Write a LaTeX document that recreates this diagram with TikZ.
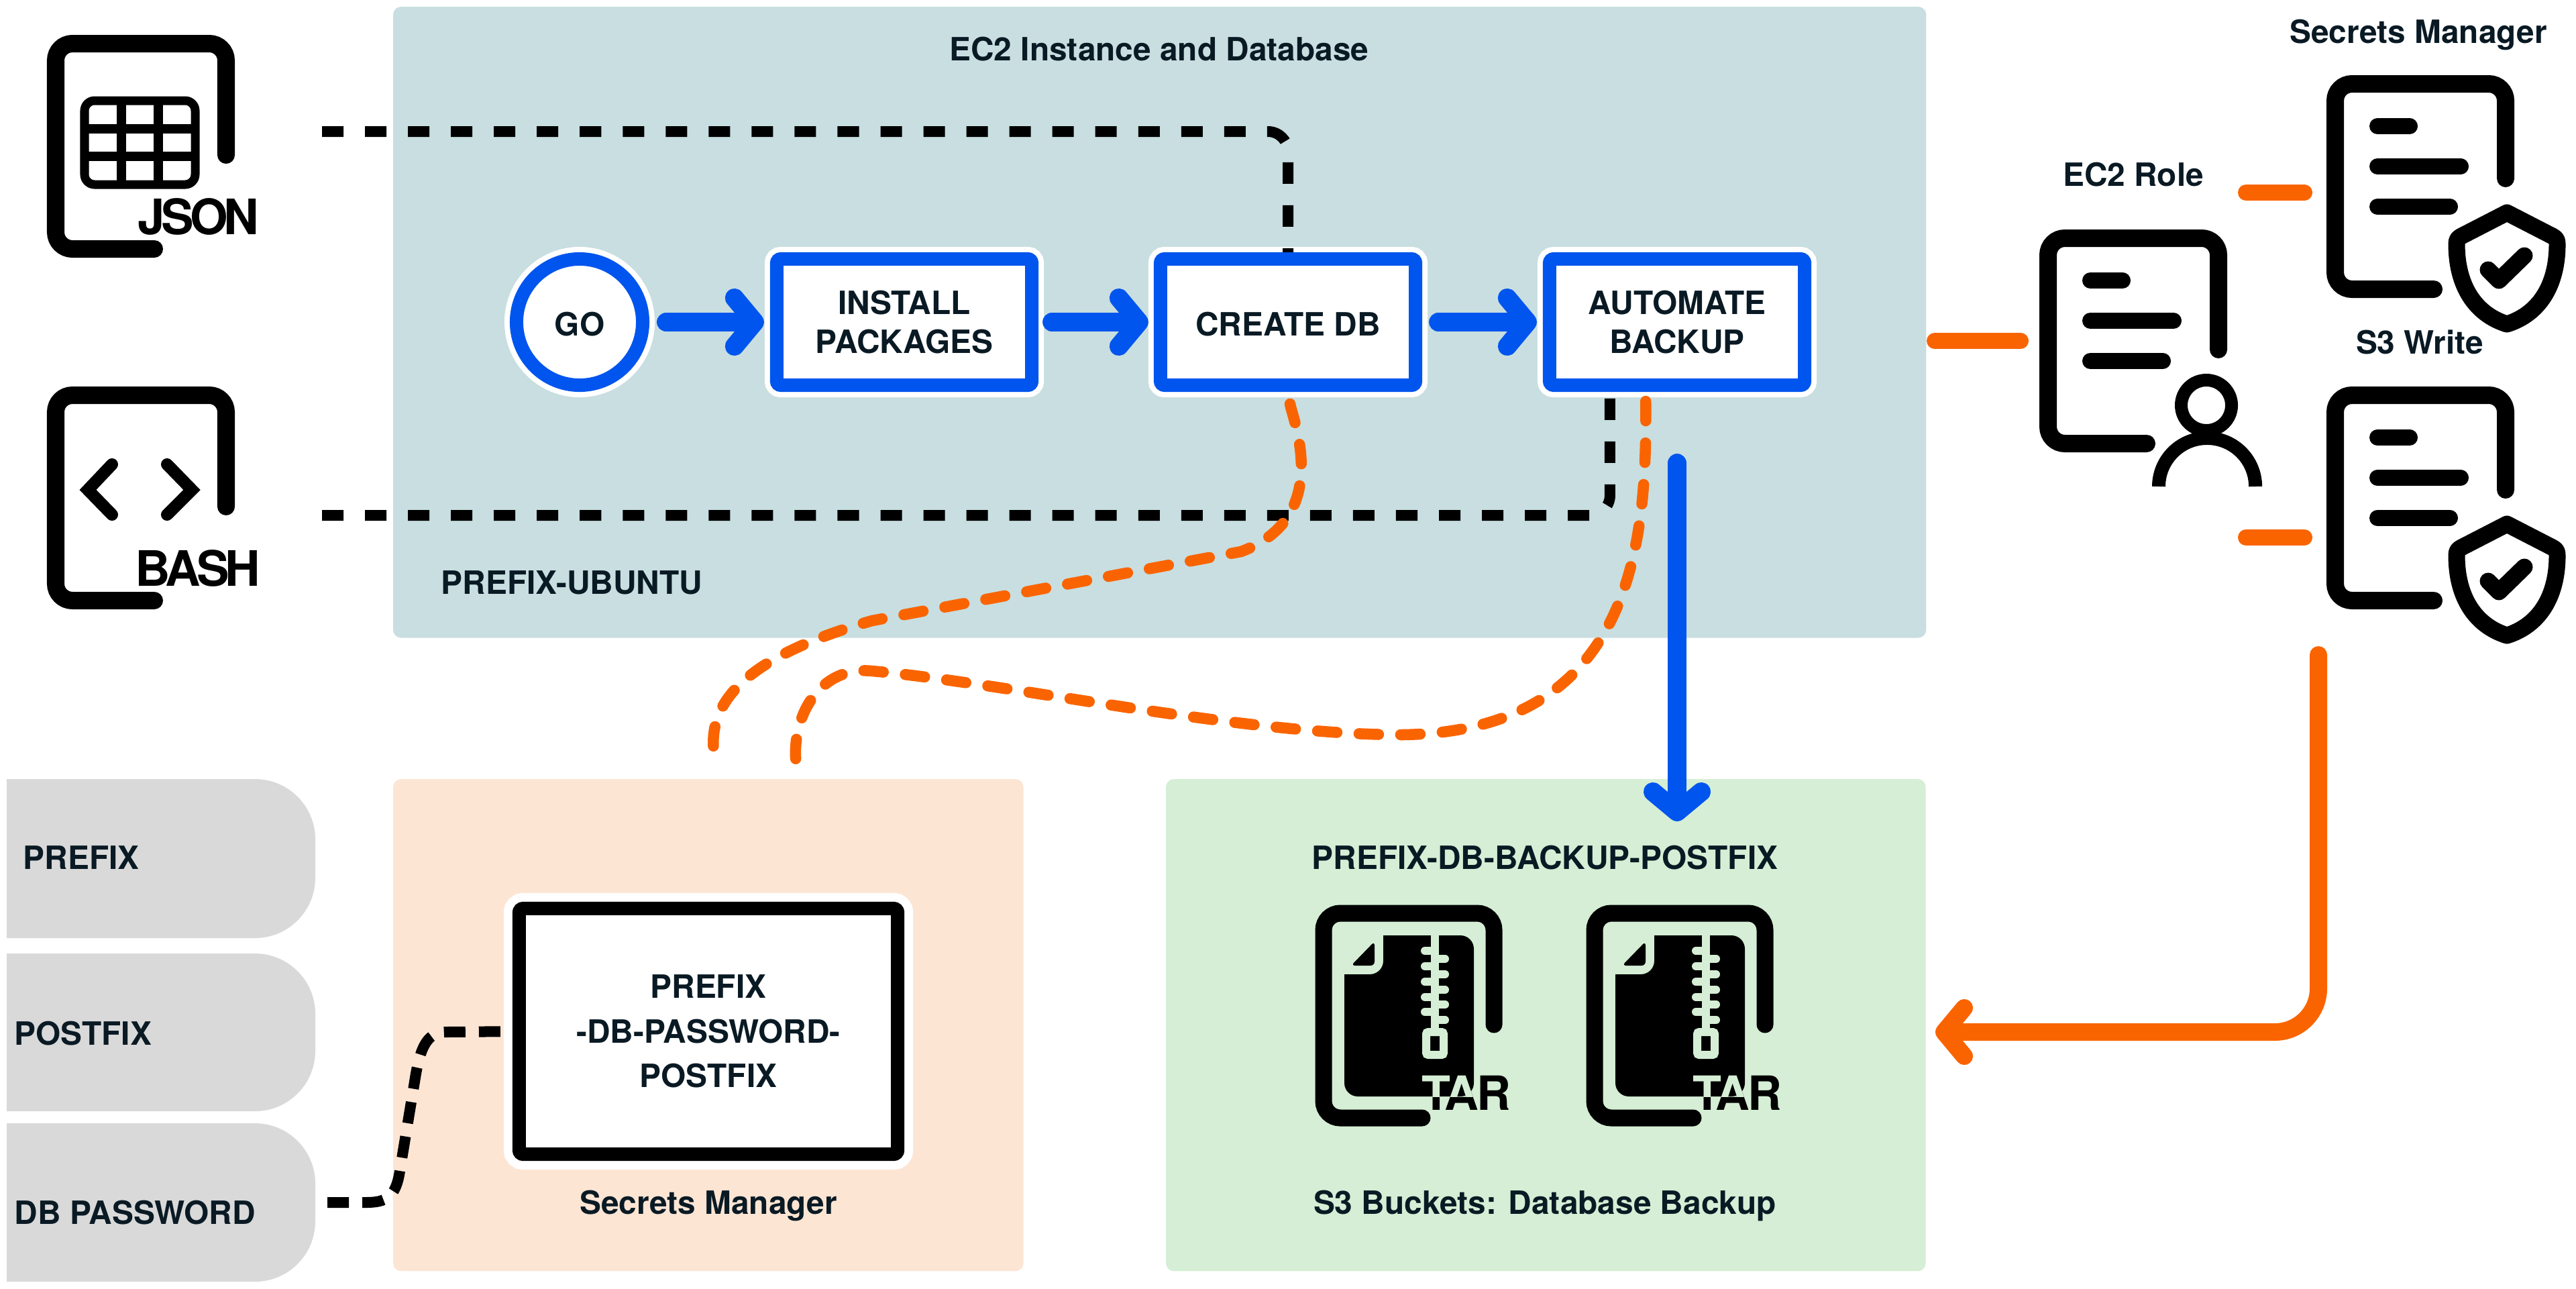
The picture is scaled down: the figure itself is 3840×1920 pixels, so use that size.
\documentclass[tikz,border=0pt]{standalone}
\usepackage{fontspec}
\setmainfont{TeX Gyre Heros}
\newfontfamily\tightfont[LetterSpace=-8]{TeX Gyre Heros}
\newfontfamily\tarfont[LetterSpace=-4]{TeX Gyre Heros}
\usetikzlibrary{arrows.meta}
\definecolor{inktext}{HTML}{0A1A24}
\definecolor{flowblue}{HTML}{0055EE}
\definecolor{roleorange}{HTML}{FA6400}
\definecolor{tealpanel}{HTML}{C8DEE0}
\definecolor{peachpanel}{HTML}{FDE5D4}
\definecolor{greenpanel}{HTML}{D5EED5}
\definecolor{vargrey}{HTML}{D9D9D9}
\tikzset{
  textlabel/.style={font=\fontsize{13.6}{16.5}\selectfont\bfseries,text=inktext,inner sep=0pt,anchor=base},
  panel/.style={rounded corners=.12cm,minimum width=#1,outer sep=0pt,inner sep=0pt,anchor=north west},
  stepbox/.style={draw=flowblue,fill=white,line width=.2cm,rounded corners=.06cm,align=center,
    minimum width=3.8cm,minimum height=1.88cm,outer sep=0pt,inner sep=0pt,
    font=\fontsize{13.6}{16.5}\selectfont\bfseries,text=inktext,
    execute at begin node={\rule{0pt}{.42cm}},
    preaction={draw=white,line width=.36cm}},
  gocircle/.style={stepbox,circle,minimum width=1.88cm,minimum height=1.88cm},
  secretbox/.style={draw=black,fill=white,line width=.2cm,rounded corners=.06cm,align=center,
    minimum width=5.64cm,minimum height=3.66cm,outer sep=0pt,inner sep=0pt,
    font=\fontsize{13.6}{19}\selectfont\bfseries,text=inktext,
    preaction={draw=white,line width=.46cm}},
  flowarrow/.style={draw=flowblue,line width=.28cm,line cap=round,
    -{Straight Barb[round,length=.3cm,width=.72cm]}},
  rolearrow/.style={draw=roleorange,line width=.26cm,line cap=round,
    -{Straight Barb[round,length=.3cm,width=.72cm]}},
  rolebar/.style={draw=roleorange,line width=.24cm,line cap=round},
  blackdash/.style={draw=black,line width=.16cm,dash pattern=on .32cm off .32cm},
  orangedash/.style={draw=roleorange,line width=.165cm,line cap=round,dash pattern=on .29cm off .33cm},
  iconline/.style={draw=black,line width=.26cm,line cap=round,rounded corners=.25cm},
  textline/.style={draw=black,line width=.24cm,line cap=round},
  tarlabel/.style={font=\fontsize{20}{22}\selectfont\tarfont\bfseries,inner sep=0pt,anchor=base west},
  iconlabel/.style={font=\fontsize{20.7}{24}\selectfont\tightfont\bfseries,inner sep=0pt,anchor=base west,text=black},
}
\begin{document}
\begin{tikzpicture}[x=.01cm,y=-.01cm]
  \useasboundingbox (0,0) rectangle (3840,1920);
  % panels
  \node[panel=22.84cm,fill=tealpanel,minimum height=9.4cm] (ubuntupanel) at (586,10) {};
  \node[panel=9.39cm,fill=peachpanel,minimum height=7.33cm] (secretspanel) at (586,1161) {};
  \node[panel=11.32cm,fill=greenpanel,minimum height=7.33cm] (backuppanel) at (1738,1161) {};
  \node[textlabel] (ubuntutitle) at (1728,90) {EC2 Instance and Database};
  \node[textlabel,anchor=base west] (ubuntuname) at (657,885) {PREFIX-UBUNTU};
  \node[textlabel] (secretstitle) at (1056,1809) {Secrets Manager};
  \node[textlabel] (backupname) at (2303,1295) {PREFIX-DB-BACKUP-POSTFIX};
  \node[textlabel] (backuptitle) at (2303,1809) {S3 Buckets: Database Backup};
  \node[textlabel] (roletitle) at (3180,277) {EC2 Role};
  \node[textlabel] (smtitle) at (3605,64) {Secrets Manager};
  \node[textlabel] (writetitle) at (3607,527) {S3 Write};
  % input variables
  \foreach \ya/\yb in {1161/1398,1421/1656,1674/1910}
  {
    \fill[vargrey] (10,\ya) -- (380,\ya) arc[start angle=90,end angle=0,radius=.9cm]
      -- (470,\yb-90) arc[start angle=0,end angle=-90,radius=.9cm] -- (10,\yb) -- cycle;
  }
  \node[textlabel,anchor=base west] (prefixvar) at (34,1295) {PREFIX};
  \node[textlabel,anchor=base west] (postfixvar) at (21,1557) {POSTFIX};
  \node[textlabel,anchor=base west] (passwordvar) at (21,1824) {DB PASSWORD};
  % steps
  \node[gocircle] (go) at (864,480) {GO};
  \node[stepbox] (install) at (1348,480) {INSTALL\\PACKAGES};
  \node[stepbox] (createdb) at (1920,480) {CREATE DB};
  \node[stepbox] (automate) at (2500,480) {AUTOMATE\\BACKUP};
  \node[secretbox] (secret) at (1056,1537) {PREFIX\\-DB-PASSWORD-\\POSTFIX};
  % free ends
  \coordinate (jsonout) at (480,196);
  \coordinate (bashout) at (480,768);
  \coordinate (passwordout) at (488,1792);
  \coordinate (secretsa) at (1072,1161);
  \coordinate (secretsb) at (1189,1161);
  \coordinate (backupdrop) at (2500,1224);
  \coordinate (writeout) at (3456,976);
  \coordinate (backupin) at (2885,1538);
  \coordinate (roleout) at (2884,508);
  \coordinate (rolein) at (3012,508);
  \coordinate (smout) at (3348,287);
  \coordinate (smin) at (3435,287);
  \coordinate (writeleft) at (3348,801);
  \coordinate (writein) at (3435,801);
  % black dashes
  \draw[blackdash,rounded corners=.3cm,shorten >=.1cm] (jsonout) -| (createdb.north);
  \draw[blackdash,rounded corners=.3cm,shorten >=.17cm] (bashout) -| ([xshift=-1cm]automate.south);
  \draw[blackdash,dash pattern=on .32cm off .2cm,shorten >=.28cm] (passwordout) -- (545,1792)
    .. controls (575,1792) and (590,1785) .. (596,1745) -- (620,1600)
    .. controls (628,1555) and (640,1538) .. (665,1538) -- (secret.west);
  % orange dashes
  \draw[orangedash,shorten <=.28cm,shorten >=.25cm] (createdb.south)
    .. controls (1925,620) and (1990,770) .. (1850,822) -- (1300,925)
    .. controls (1090,985) and (1050,1060) .. (secretsa);
  \draw[orangedash,shorten <=.24cm,shorten >=.25cm] ([xshift=-.47cm]automate.south)
    .. controls (2455,800) and (2440,1090) .. (2090,1095)
    .. controls (1850,1095) and (1500,1018) .. (1300,1000)
    .. controls (1220,992) and (1180,1070) .. (secretsb);
  % flow arrows
  \draw[flowarrow,shorten <=.35cm,shorten >=.19cm] (go) -- (install);
  \draw[flowarrow,shorten <=.3cm,shorten >=.18cm] (install) -- (createdb);
  \draw[flowarrow,shorten <=.34cm,shorten >=.19cm] (createdb) -- (automate);
  \draw[flowarrow,shorten <=1.16cm] (automate.south) -- (backupdrop);
  \draw[rolearrow,rounded corners=.65cm] (writeout) |- (backupin);
  \draw[rolebar] (roleout) -- (rolein);
  \draw[rolebar] (smout) -- (smin);
  \draw[rolebar] (writeleft) -- (writein);
  % document outlines
  \foreach \x/\y/\e in {83/65/231,83/589/755,3481/125/266,3481/589/730,3053/355/521}
  {
    \draw[iconline] (\x+254,\e) -- (\x+254,\y) -- (\x,\y) -- (\x,\y+306) -- (\x+147,\y+306);
  }
  \foreach \x/\y in {3481/125,3481/589,3053/355}
  {
    \draw[textline] (\x+63,\y+63) -- (\x+111,\y+63);
    \draw[textline] (\x+63,\y+123) -- (\x+187,\y+123);
    \draw[textline] (\x+63,\y+183) -- (\x+171,\y+183);
  }
  % shields
  \foreach \y in {0,464}
  {
    \draw[draw=black,line width=.25cm,line join=round] (3737,317+\y) -- (3805,352+\y)
      .. controls (3811,355+\y) and (3812,358+\y) .. (3812,364+\y)
      .. controls (3812,425+\y) and (3785,468+\y) .. (3737,483+\y)
      .. controls (3689,468+\y) and (3662,425+\y) .. (3662,364+\y)
      .. controls (3662,358+\y) and (3663,355+\y) .. (3669,352+\y) -- cycle;
    \draw[draw=black,line width=.25cm,line cap=round,line join=round]
      (3709,402+\y) -- (3725,418+\y) -- (3763,381+\y);
  }
  % person
  \draw[draw=black,line width=.19cm] (3289,604) circle[radius=.375cm];
  \draw[draw=black,line width=.2cm] (3218,725) arc[start angle=180,end angle=0,radius=.72cm];
  % json table
  \draw[draw=black,line width=.13cm,rounded corners=.15cm] (126,150) rectangle (291,275);
  \foreach \x in {181,236}
  {
    \draw[draw=black,line width=.14cm] (\x,150) -- (\x,275);
  }
  \foreach \y in {192,233}
  {
    \draw[draw=black,line width=.14cm] (126,\y) -- (291,\y);
  }
  \node[iconlabel] (jsonlabel) at (205,349) {JSON};
  % bash chevrons
  \draw[draw=black,line width=.18cm,line cap=round] (167,692) -- (131,730) -- (167,767);
  \draw[draw=black,line width=.18cm,line cap=round] (249,692) -- (286,730) -- (249,767);
  \node[iconlabel] (bashlabel) at (201,873) {BASH};
  % tar files
  \foreach \d/\n in {0/a,404/b}
  {
    \draw[iconline,line width=.25cm] (2227+\d,1527) -- (2227+\d,1361) -- (1973+\d,1361)
      -- (1973+\d,1666) -- (2120+\d,1666);
    \fill[black] (2062+\d,1394) [rounded corners=.2cm] -- (2197+\d,1394) -- (2197+\d,1634)
      -- (2004+\d,1634) [sharp corners] -- (2004+\d,1452) [rounded corners=.2cm]
      -- (2062+\d,1452) [sharp corners] -- cycle;
    \fill[black,rounded corners=.06cm] (2014+\d,1439) -- (2049+\d,1403) -- (2049+\d,1439) -- cycle;
    \draw[draw=greenpanel,line width=.12cm] (2139+\d,1394) -- (2139+\d,1532);
    \foreach \t in {1417,1440,1463,1486,1508}
    {
      \draw[draw=greenpanel,line width=.12cm,line cap=round] (2139+\d,\t) -- (2124+\d,\t);
    }
    \foreach \t in {1429,1452,1475,1497,1520}
    {
      \draw[draw=greenpanel,line width=.12cm,line cap=round] (2139+\d,\t) -- (2154+\d,\t);
    }
    \draw[draw=greenpanel,line width=.12cm,rounded corners=.03cm] (2126+\d,1538) rectangle (2152+\d,1572);
    \node[tarlabel,text=black] (tar\n) at (2119+\d,1654) {TAR};
    \begin{scope}
      \clip (2004+\d,1394) rectangle (2197+\d,1634);
      \node[tarlabel,text=greenpanel] (tarcut\n) at (2119+\d,1654) {TAR};
    \end{scope}
  }
\end{tikzpicture}
\end{document}
